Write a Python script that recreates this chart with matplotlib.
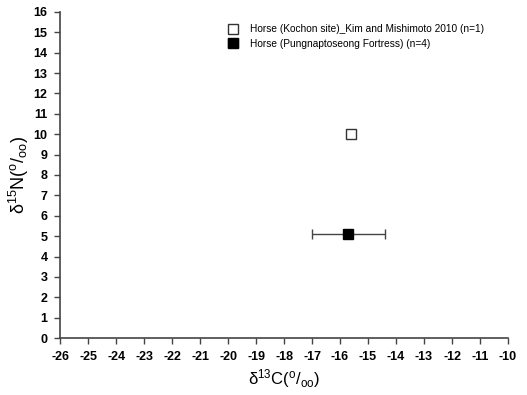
import matplotlib
matplotlib.use("Agg")
import matplotlib.pyplot as plt
import numpy as np

plt.rcParams['font.family'] = ['Liberation Sans', 'DejaVu Sans']
plt.rcParams['mathtext.default'] = 'regular'

# data
kochon_c = [-15.6]
kochon_n = [10.0]
pung_c = [-15.7]
pung_n = [5.1]
pung_c_err = [1.3]

x_ticks = list(range(-26, -9))
y_ticks = list(range(0, 17))

fig = plt.figure(figsize=(5.27, 3.95), dpi=100)
ax = fig.add_axes([0.114, 0.144, 0.85, 0.826])

ax.errorbar(pung_c, pung_n, xerr=pung_c_err, fmt='s', color='black', ecolor='#444444',
            markersize=7, elinewidth=1, capsize=3.5, capthick=1,
            label='Horse (Pungnaptoseong Fortress) (n=4)', zorder=3)
ax.plot(kochon_c, kochon_n, 's', markerfacecolor='white', markeredgecolor='#333333',
        markersize=7, markeredgewidth=1, label='Horse (Kochon site)_Kim and Mishimoto 2010 (n=1)')

ax.set_xlim(-26, -10)
ax.set_ylim(0, 16)
ax.set_xticks(x_ticks)
ax.set_yticks(y_ticks)
ax.set_xticklabels([str(v) for v in x_ticks], fontweight='bold', fontsize=9)
ax.set_yticklabels([str(v) for v in y_ticks], fontweight='bold', fontsize=9)
ax.tick_params(direction='out', length=4, width=1, color='#444444', pad=5)
for s in ['top', 'right']:
    ax.spines[s].set_visible(False)
for s in ['left', 'bottom']:
    ax.spines[s].set_color('#444444')
    ax.spines[s].set_linewidth(1.2)

ax.set_xlabel('δ$^{13}$C($^{o}$/$_{oo}$)', fontsize=12, labelpad=3)
ax.set_ylabel('δ$^{15}$N($^{o}$/$_{oo}$)', fontsize=13, labelpad=2)

ax.legend(loc='upper left', bbox_to_anchor=(0.353, 0.99),
          frameon=False, fontsize=7.3, handletextpad=1.0, labelspacing=0.45, handlelength=1.2)

plt.savefig('out.png', dpi=100)
